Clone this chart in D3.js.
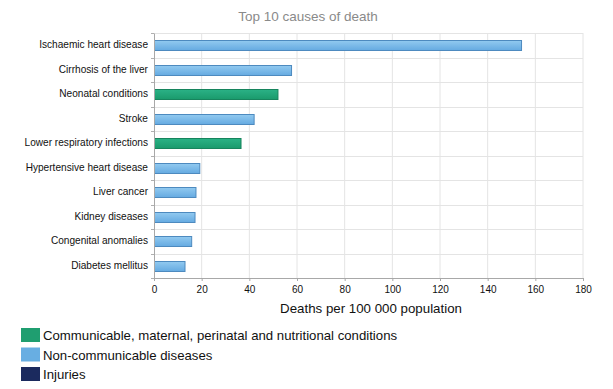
<!DOCTYPE html>
<html>
<head>
<meta charset="utf-8">
<script src="https://cdn.jsdelivr.net/npm/d3@7"></script>
<style>
  body { margin: 0; background: #fff; }
  svg { display: block; font-family: "Liberation Sans", Arial, sans-serif; }
</style>
</head>
<body>
<svg id="chart" width="613" height="389"></svg>
<script>
// ── Data ─────────────────────────────────────────────────────────────────────
const causes = [
  "Ischaemic heart disease", "Cirrhosis of the liver", "Neonatal conditions",
  "Stroke", "Lower respiratory infections", "Hypertensive heart disease",
  "Liver cancer", "Kidney diseases", "Congenital anomalies", "Diabetes mellitus"
];
const rates = [154, 57.5, 51.8, 41.8, 36.3, 19, 17.4, 17, 15.6, 12.8];
const groups = ["ncd", "ncd", "comm", "ncd", "comm", "ncd", "ncd", "ncd", "ncd", "ncd"];
const xTicks = [0, 20, 40, 60, 80, 100, 120, 140, 160, 180];
const legendKeys = ["comm", "ncd", "inj"];
const legendLabels = [
  "Communicable, maternal, perinatal and nutritional conditions",
  "Non-communicable diseases",
  "Injuries"
];

const rows = causes.map((c, i) => ({ cause: c, rate: rates[i], group: groups[i] }));

// ── Layout ───────────────────────────────────────────────────────────────────
const svg = d3.select("#chart");
const m = { left: 154, right: 583, top: 33, bottom: 278 };

const x = d3.scaleLinear().domain([0, 180]).range([m.left, m.right]);
const y = d3.scaleBand().domain(causes).range([m.top, m.bottom]).paddingInner(0.58).paddingOuter(0.29);

const legendColor = d3.scaleOrdinal().domain(legendKeys).range(["#1f9e70", "#68aee2", "#1b2a5e"]);

// gradients for bars
const defs = svg.append("defs");
const grads = { ncd: ["#92caf0", "#65aae1"], comm: ["#2bb286", "#1a9a6c"] };
Object.entries(grads).forEach(([k, [c1, c2]]) => {
  const g = defs.append("linearGradient").attr("id", "g-" + k)
    .attr("x1", 0).attr("x2", 0).attr("y1", 0).attr("y2", 1);
  g.append("stop").attr("offset", "0%").attr("stop-color", c1);
  g.append("stop").attr("offset", "100%").attr("stop-color", c2);
});
const strokeCol = { ncd: "#4d8abf", comm: "#17845d" };

// ── Title ────────────────────────────────────────────────────────────────────
svg.append("text")
  .attr("x", 308).attr("y", 21)
  .attr("text-anchor", "middle")
  .attr("font-size", 13.5)
  .attr("fill", "#8a8a8a")
  .text("Top 10 causes of death");

// ── Grid ─────────────────────────────────────────────────────────────────────
svg.append("g")
  .selectAll("line")
  .data(xTicks.slice(1))
  .join("line")
  .attr("x1", d => x(d)).attr("x2", d => x(d))
  .attr("y1", m.top).attr("y2", m.bottom)
  .attr("stroke", "#e4e4e4");

const bandEdges = d3.range(causes.length + 1).map(i => m.top + i * (m.bottom - m.top) / causes.length);
svg.append("g")
  .selectAll("line")
  .data(bandEdges.slice(0, -1))
  .join("line")
  .attr("x1", m.left - 3).attr("x2", m.right)
  .attr("y1", d => Math.round(d) + 0.5).attr("y2", d => Math.round(d) + 0.5)
  .attr("stroke", "#e4e4e4");

// y-axis ticks (small marks left of the axis)
svg.append("g")
  .selectAll("line")
  .data(bandEdges)
  .join("line")
  .attr("x1", m.left - 3).attr("x2", m.left)
  .attr("y1", d => Math.round(d) + 0.5).attr("y2", d => Math.round(d) + 0.5)
  .attr("stroke", "#b0b0b0");

// ── Bars ─────────────────────────────────────────────────────────────────────
svg.append("g")
  .selectAll("rect")
  .data(rows)
  .join("rect")
  .attr("x", x(0) + 0.5)
  .attr("y", d => Math.round(y(d.cause)) + 0.5)
  .attr("width", d => x(d.rate) - x(0))
  .attr("height", Math.round(y.bandwidth()))
  .attr("fill", d => `url(#g-${d.group})`)
  .attr("stroke", d => strokeCol[d.group])
  .attr("stroke-width", 1);

// ── Axes ─────────────────────────────────────────────────────────────────────
const yAxis = svg.append("g")
  .attr("transform", `translate(${m.left},0)`)
  .call(d3.axisLeft(y).tickSize(0).tickPadding(6));
yAxis.select(".domain").attr("stroke", "#a8a8a8");
yAxis.selectAll("text").attr("font-size", 10.1).attr("fill", "#111").attr("font-family", null);

const xAxis = svg.append("g")
  .attr("transform", `translate(0,${m.bottom})`)
  .call(d3.axisBottom(x).tickValues(xTicks).tickSize(3).tickPadding(5).tickFormat(d3.format("d")));
xAxis.select(".domain").attr("stroke", "#a8a8a8");
xAxis.selectAll(".tick line").attr("stroke", "#a8a8a8");
xAxis.selectAll("text").attr("font-size", 10).attr("fill", "#111").attr("font-family", null);

svg.append("text")
  .attr("x", 371).attr("y", 313)
  .attr("text-anchor", "middle")
  .attr("font-size", 13.3)
  .attr("fill", "#111")
  .text("Deaths per 100 000 population");

// ── Legend ───────────────────────────────────────────────────────────────────
const legend = svg.append("g")
  .selectAll("g")
  .data(legendKeys)
  .join("g")
  .attr("transform", (d, i) => `translate(21,${328 + i * 19.5})`);
legend.append("rect")
  .attr("width", 19).attr("height", 14)
  .attr("fill", d => legendColor(d));
legend.append("text")
  .attr("x", 22).attr("y", 12)
  .attr("font-size", 13.2)
  .attr("fill", "#111")
  .text((d, i) => legendLabels[i]);
</script>
</body>
</html>
